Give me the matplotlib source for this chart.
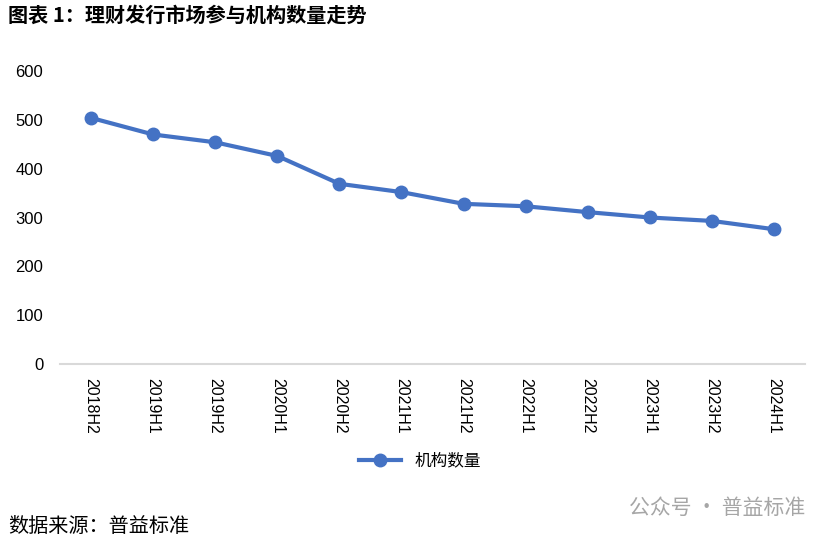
import matplotlib
matplotlib.use('Agg')
import matplotlib.pyplot as plt

plt.rcParams['font.family'] = ['Noto Sans CJK SC', 'DejaVu Sans']

# data
periods = ['2018H2', '2019H1', '2019H2', '2020H1', '2020H2', '2021H1',
           '2021H2', '2022H1', '2022H2', '2023H1', '2023H2', '2024H1']
counts = [504, 470, 454, 426, 369, 352, 328, 323, 311, 300, 293, 276]

fig = plt.figure(figsize=(8.31, 5.40), dpi=100)
ax = fig.add_axes([60 / 831, 1 - 364 / 540, 745 / 831, 293 / 540])

x = list(range(len(periods)))
ax.plot(x, counts, color='#4472C4', linewidth=3, marker='o', markersize=9,
        label='机构数量')

ax.set_xlim(-0.5, len(periods) - 0.5)
ax.set_ylim(0, 600)
ax.set_yticks(range(0, 601, 100))
ax.set_xticks(x)
ax.set_xticklabels(periods, rotation=-90, fontsize=11.5, family='Liberation Sans')
for lbl in ax.get_yticklabels():
    lbl.set_family('Liberation Sans')
ax.tick_params(axis='y', labelsize=12, length=0, pad=12)
ax.tick_params(axis='x', length=0, pad=10)

for side in ['top', 'right', 'left']:
    ax.spines[side].set_visible(False)
ax.spines['bottom'].set_color('#D9D9D9')
ax.spines['bottom'].set_linewidth(1.5)

ax.legend(loc='center', bbox_to_anchor=(420 / 831, 1 - 461 / 540),
          bbox_transform=fig.transFigure, frameon=False, fontsize=12,
          handlelength=2.5)

fig.text(8 / 831, 1 - 15 / 540, '图表 1：理财发行市场参与机构数量走势', fontsize=14.5,
         fontweight='bold', va='center', ha='left')
fig.text(8 / 831, 1 - 527 / 540, '数据来源：普益标准', fontsize=14.5,
         va='center', ha='left')
fig.text(805 / 831, 1 - 508 / 540, '公众号 · 普益标准', fontsize=15,
         color='#A6A6A6', va='center', ha='right')

fig.savefig('out.png', dpi=100)
